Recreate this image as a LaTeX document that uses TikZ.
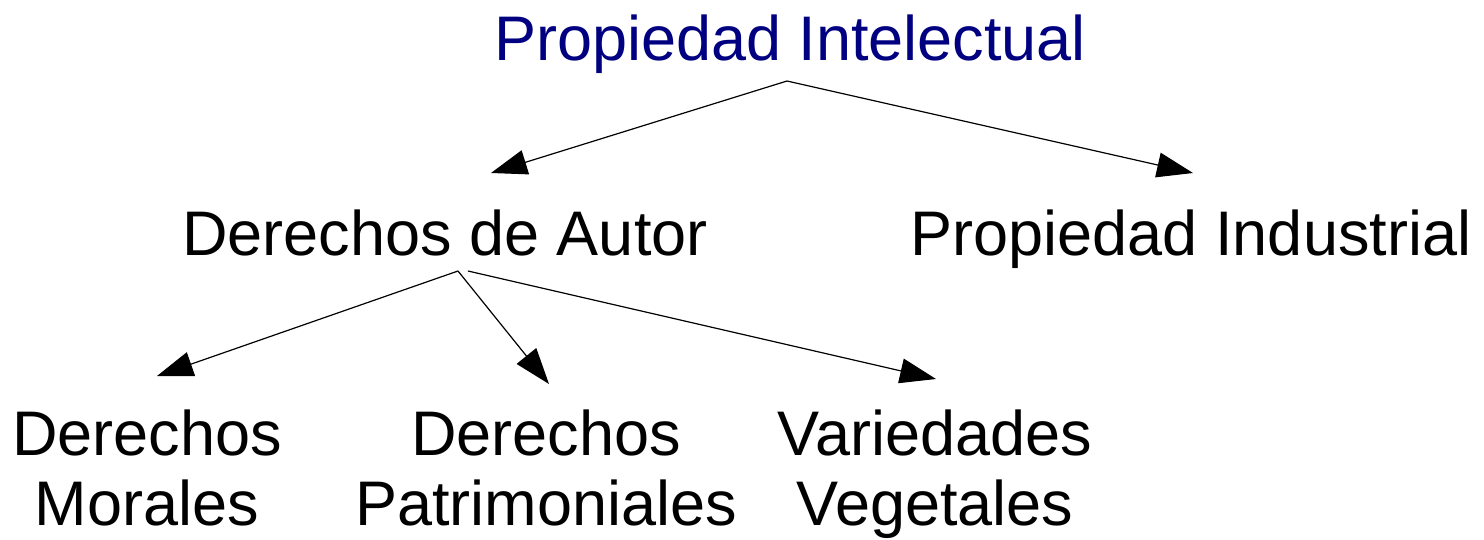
\documentclass[tikz,border=0pt]{standalone}
\usepackage{fontspec}
\setmainfont{Liberation Sans}
\usetikzlibrary{arrows.meta}
\definecolor{titleblue}{RGB}{0,0,128}
\tikzset{
  lbl/.style={inner sep=0pt, outer sep=0pt, anchor=base, align=center, font=\fontsize{63}{70}\selectfont},
  conn/.style={line width=1.2pt, -{Triangle[length=36pt,width=25pt]}}
}
\begin{document}
\begin{tikzpicture}[x=1pt,y=-1pt]
\useasboundingbox (0,0) rectangle (1484,539);
\node[lbl, text=titleblue] (pi) at (790,60) {Propiedad Intelectual};
\node[lbl] (da) at (445,255) {Derechos de Autor};
\node[lbl] (pind) at (1191,255) {Propiedad Industrial};
\node[lbl] (dm) at (147,525) {Derechos\\Morales};
\node[lbl] (dp) at (546,525) {Derechos\\Patrimoniales};
\node[lbl] (vv) at (935,525) {Variedades\\Vegetales};
\coordinate (piA) at (787,81);
\coordinate (daA) at (458,271);
\coordinate (daB) at (468,271);
\coordinate (tDA) at (491,173);
\coordinate (tPI) at (1193,173);
\coordinate (tDM) at (157,376);
\coordinate (tDP) at (549,384);
\coordinate (tVV) at (936,379);
\draw[conn] (piA) -- (tDA);
\draw[conn] (piA) -- (tPI);
\draw[conn] (daA) -- (tDM);
\draw[conn] (daA) -- (tDP);
\draw[conn] (daB) -- (tVV);
\end{tikzpicture}
\end{document}
